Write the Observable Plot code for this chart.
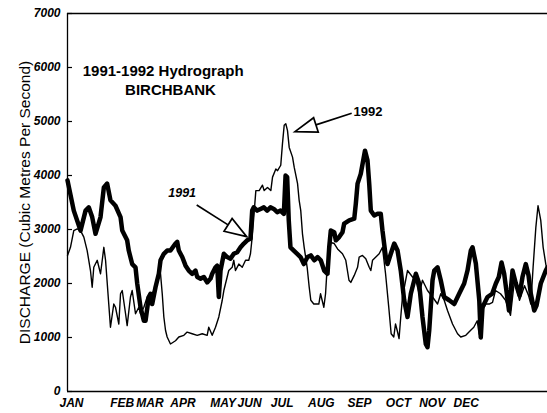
<!DOCTYPE html>
<html><head><meta charset="utf-8">
<script src="https://cdn.jsdelivr.net/npm/d3@7"></script>
<script src="https://cdn.jsdelivr.net/npm/@observablehq/plot@0.6"></script>
<style>
html,body{margin:0;padding:0;background:#fff;}
#chart{width:547px;height:413px;overflow:hidden;}
</style></head><body><div id="chart"></div>
<script>
// x = position along the record (0 = start of JAN, 420 = right edge), y = discharge m3/s
const t1991 = [0,5.5,11.4,15.8,18.6,21.6,24.5,28.9,31.8,34.7,
37.6,42,46.4,47.9,52.2,53.6,56.6,59.5,61,63.9,
66.8,68.3,71.1,72.6,74.1,77,79.9,81.4,84.3,87.2,
90.1,94.5,96,97.4,100.4,103.3,106.1,109.1,112,113.5,
116.4,119.3,122.2,125.1,126.6,129.5,131,132.4,133.9,136.8,
139.7,142.6,145.5,148.5,151.4,154.3,157.2,160.1,161.6,163,
166,168.9,171.8,174.7,177.6,180.5,183.5,186.4,189.3,190.8,
192.2,193.6,195.1,198,201,203.9,206.8,210,212.9,215.9,
218.8,221.6,224.6,227.5,229,230.4,233.4,234.8,237.7,240.6,
242.1,246.5,250.9,252.3,253.8,256.6,260.3,262.5,264,265.4,
268.4,271.3,274.1,275.6,278.5,280,282.9,285.9,288.8,291.6,
294.6,297.5,300.4,303.4,304.8,307.7,310.6,313.5,315,316.5,
319.4,320.9,323.8,326.6,329.6,334,338.4,342.7,347.1,350,
352.9,354.4,357.3,360.3,361.6,363.1,367.5,371.6,374.8,377.4,
379.8,382.1,386.3,389.4,392.3,395.5,398.1,401,403.4,405.4,
408.4,410.4,414.1,418.5,420];
const q1991 = [3910,3350,2980,3350,3410,3230,2920,3230,3780,3850,
3540,3440,3230,2980,2800,2610,2360,2300,2000,1560,
1310,1310,1750,1810,1620,1930,2180,2430,2550,2610,
2610,2740,2770,2610,2490,2330,2240,2180,2240,2120,
2090,2120,2020,2090,2180,2300,2330,1750,2240,2550,
2490,2460,2550,2580,2670,2740,2800,2830,3350,3410,
3350,3380,3410,3350,3410,3380,3320,3350,3290,4000,
3970,3170,2670,2610,2550,2490,2360,2490,2520,2430,
2490,2430,2240,2180,2670,2980,2950,2800,2860,2950,
3110,3170,3200,3480,3850,4030,4460,4280,3850,3350,
3260,3290,3290,2980,2490,2360,2550,2740,2610,2240,
1690,1380,1810,2060,2180,2000,1380,880,820,1130,
2060,2240,2300,2060,1750,1690,1620,1810,2000,2240,
2610,2670,2370,1690,1000,1560,1750,1810,2000,2120,
2390,2180,1500,2240,2000,1780,2120,2360,2150,1810,
1500,1590,2000,2240,2300];

const t1992 = [0,2.6,5.5,8.5,11.4,14.3,17.2,20.1,21.6,23,
26,28.9,30.4,31.8,33.3,36.1,37.6,40.5,42,44.9,
46.4,47.9,50.8,52.2,55.1,56.6,59.5,62.4,63.9,66.8,
69.7,72.6,75.5,78.5,79.9,81.4,82.9,84.3,85.8,87.2,
90.1,94.5,97.4,101.8,104.7,109.1,113.5,117.9,122.2,123.6,
126.6,129.5,132.4,135.4,136.8,139.7,141.1,144.1,145.5,147,
149.9,152.9,155.8,158.6,160.1,161.6,163,164.8,167.7,170.6,
172.1,175,177.9,179.4,182.3,183.8,186.6,188.1,189.6,191,
192.5,194,196.9,198.4,201.3,202.7,204.1,205.6,207.1,209.7,
211.5,212.9,215.5,219.9,221.4,224.3,225.8,227.2,229,230.4,
233.4,236.3,240.6,243.5,246.3,247.9,250.9,253.8,255.2,258.1,
261,264,265.4,266.9,269.8,272.7,275.6,278.3,281.1,283.2,
285.5,287,288.5,290.1,291.6,293.1,297.5,301.9,304.8,307.7,
310.6,315,319.4,323.8,326.6,329.6,332.5,336.9,341.3,344.1,
348.5,352.6,355.5,358.5,360.1,361.8,363.1,366,369,371.9,
374.5,378.9,383.3,387.6,391.1,395.5,399.9,403.4,405.4,407.4,
409.8,411.7,414.1,416.2,418.5,420];
const q1992 = [2520,2670,2980,3010,2980,2860,2610,2240,1930,2300,
2430,2180,2430,2670,2430,1620,1190,1620,1560,1250,
1810,1870,1440,1220,1750,1870,1440,1560,1440,1560,
1750,1750,1870,2000,2120,2180,1810,1380,1130,1010,
880,940,1010,1040,1100,1070,1040,1070,1040,1190,
1040,1190,1380,1690,1870,2120,2240,2300,2430,2240,
2360,2300,2430,2430,2550,2860,3230,3720,3720,3820,
3720,3780,3720,3970,4120,4090,4190,4590,4930,4960,
4830,4520,4340,4150,3850,3540,3350,2920,2670,2300,
1930,1690,1620,1620,1810,1560,1810,2300,2550,2760,
2740,2640,2550,2430,2060,2020,2150,2300,2490,2520,
2460,2300,2240,2430,2490,2550,2670,2180,1560,1070,
1010,1250,1130,980,1380,1750,2240,2120,2060,1810,
2060,1870,1750,1620,1810,1690,1500,1250,1070,1010,
1040,1130,1190,1310,1070,980,1500,1620,1620,1650,
1870,1810,1690,1410,2060,1690,1960,1780,1620,2300,
3040,3440,3170,2670,2360,2200];

const months = ["JAN","FEB","MAR","APR","MAY","JUN","JUL","AUG","SEP","OCT","NOV","DEC"];
const monthPos = [3.5,47.9,72.2,101,136.1,159.3,187.8,222.1,255.5,289.6,319.1,348.9];
const yTicks = [0,1000,2000,3000,4000,5000,6000,7000];
const yLabel = "DISCHARGE (Cubic Metres Per Second)";

const labels = [
  {text:"1991-1992 Hydrograph", t:83.7, q:5936, size:15, italic:false},
  {text:"BIRCHBANK", t:90.1, q:5575, size:15, italic:false},
  {text:"1991", t:100.3, q:3676, size:12.5, italic:true},
  {text:"1992", t:262.9, q:5173, size:13, italic:false}
];
const arrows = [
  {from:[113.5,3445], to:[157.2,2858]},
  {from:[249.1,5143], to:[199.5,4802]}
];

const d91 = t1991.map((t,i)=>({t, q:q1991[i]}));
const d92 = t1992.map((t,i)=>({t, q:q1992[i]}));

function arrowMark(index, scales) {
  const g = d3.create("svg:g");
  for (const a of arrows) {
    const x1 = scales.x(a.from[0]), y1 = scales.y(a.from[1]);
    const x2 = scales.x(a.to[0]), y2 = scales.y(a.to[1]);
    const dx = x2-x1, dy = y2-y1, L = Math.hypot(dx,dy), ux = dx/L, uy = dy/L;
    const hl = 22, hw = 7.5;
    const bx = x2-ux*hl, by = y2-uy*hl;
    g.append("line").attr("x1",x1).attr("y1",y1).attr("x2",bx).attr("y2",by)
      .attr("stroke","#000").attr("stroke-width",1.7);
    g.append("path")
      .attr("d",`M${x2},${y2}L${bx-uy*hw},${by+ux*hw}L${bx+uy*hw},${by-ux*hw}Z`)
      .attr("fill","#fff").attr("stroke","#000").attr("stroke-width",1.7);
  }
  return g.node();
}

const font = "'Liberation Sans', Arial, Helvetica, sans-serif";
const chart = Plot.plot({
  width: 547, height: 413,
  marginLeft: 67, marginRight: 0, marginTop: 13, marginBottom: 22,
  style: {fontFamily: font, background: "#fff", color: "#000", overflow: "visible"},
  x: {domain: [0, 420], label: null},
  y: {domain: [0, 7000], label: null},
  marks: [
    Plot.axisY(yTicks, {tickSize: 0, tickPadding: 7, fontSize: 12, fontWeight: "bold", fontStyle: "italic", label: null, tickFormat: d => String(d)}),
    Plot.tickY(yTicks, {y: d => d, insetRight: 475, strokeWidth: 1.2}),
    Plot.axisX(monthPos, {tickSize: 0, tickPadding: 7, fontSize: 12, fontWeight: "bold", fontStyle: "italic", label: null,
      tickFormat: d => months[monthPos.indexOf(d)]}),
    Plot.ruleX([0], {strokeWidth: 1.3}),
    Plot.ruleY([0, 7000], {strokeWidth: 1.3}),
    Plot.line(d92, {x: "t", y: "q", stroke: "#000", strokeWidth: 1.4}),
    Plot.line(d91, {x: "t", y: "q", stroke: "#000", strokeWidth: 4.5, strokeLinejoin: "round"}),
    arrowMark,
    Plot.text(labels, {filter: d => !d.italic, x: "t", y: "q", text: "text", fontSize: "size",
      fontWeight: "bold", textAnchor: "middle", lineAnchor: "middle"}),
    Plot.text(labels, {filter: d => d.italic, x: "t", y: "q", text: "text", fontSize: "size",
      fontWeight: "bold", fontStyle: "italic", textAnchor: "middle", lineAnchor: "middle"}),
    Plot.text([yLabel], {frameAnchor: "left", dx: -42, rotate: -90, fontSize: 15.5,
      textAnchor: "middle", lineAnchor: "middle"})
  ]
});
document.getElementById("chart").appendChild(chart);
</script>
</body></html>
